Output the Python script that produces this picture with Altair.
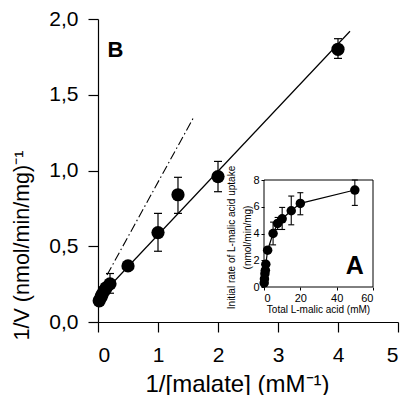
import altair as alt
import pandas as pd

FONT = "Liberation Sans"

# ---------------- main (double reciprocal) data ----------------
main_x = [4.0, 2.0, 1.333, 1.0, 0.5, 0.2, 0.133, 0.1, 0.067, 0.05, 0.02]
main_y = [1.80, 0.96, 0.84, 0.59, 0.37, 0.252, 0.225, 0.205, 0.18, 0.165, 0.14]

err_x = [4.0, 2.0, 1.333, 1.0, 0.2]
err_lo = [1.74, 0.86, 0.717, 0.467, 0.19]
err_hi = [1.87, 1.06, 0.955, 0.717, 0.32]

fit_x = [0.0, 4.2]
fit_y = [0.155, 1.919]

dd_x = [0.15, 1.6]
dd_y = [0.31, 1.355]

# ---------------- inset data ----------------
ins_x = [0.1, 0.25, 0.5, 0.75, 1.0, 2.0, 5.0, 7.5, 10.0, 15.0, 20.0, 50.0]
ins_y = [0.3, 0.6, 1.0, 1.25, 1.7, 2.75, 4.0, 4.75, 5.1, 5.7, 6.25, 7.25]

ierr_x = [5.0, 7.5, 10.0, 15.0, 20.0, 50.0]
ierr_lo = [3.15, 4.3, 4.3, 4.65, 5.4, 6.1]
ierr_hi = [4.85, 5.2, 5.95, 6.8, 7.05, 8.0]

frame_x = [0.0]
frame_x2 = [60.0]
frame_y = [0.0]
frame_y2 = [8.0]

panel_b = ["B"]
panel_b_x = [0.29]
panel_b_y = [1.794]
panel_a = ["A"]
panel_a_x = [50.0]
panel_a_y = [1.55]

# ---------------- tables ----------------
main_df = pd.DataFrame({"x": main_x, "y": main_y})
err_df = pd.DataFrame({"x": err_x, "lo": err_lo, "hi": err_hi})
fit_df = pd.DataFrame({"x": fit_x, "y": fit_y})
dd_df = pd.DataFrame({"x": dd_x, "y": dd_y})
ins_df = pd.DataFrame({"x": ins_x, "y": ins_y})
ierr_df = pd.DataFrame({"x": ierr_x, "lo": ierr_lo, "hi": ierr_hi})
frame_df = pd.DataFrame({"x": frame_x, "x2": frame_x2, "y": frame_y, "y2": frame_y2})
b_df = pd.DataFrame({"t": panel_b, "x": panel_b_x, "y": panel_b_y})
a_df = pd.DataFrame({"t": panel_a, "x": panel_a_x, "y": panel_a_y})

W, H = 300, 303

# main scales / axes
mxs = alt.Scale(domain=[0, 5], nice=False, zero=False)
mys = alt.Scale(domain=[0, 2], nice=False, zero=False)

mx_axis = alt.Axis(
    values=[0, 1, 2, 3, 4, 5], format="d", grid=False,
    domainColor="black", tickColor="black", tickSize=10, domainWidth=1.2, tickWidth=1.2,
    labelFont=FONT, labelFontSize=21, labelColor="black", labelPadding=12,
    title="1/[malate] (mM\u207b\u00b9)", titleFont=FONT, titleFontSize=24,
    titleFontWeight="normal", titleColor="black",
    titleX=139, titleY=62, titleBaseline="middle", titleAnchor="middle",
)
my_axis = alt.Axis(
    values=[0, 0.5, 1.0, 1.5, 2.0], grid=False,
    labelExpr="replace(format(datum.value, '.1f'), '.', ',')",
    domainColor="black", tickColor="black", tickSize=10, domainWidth=1.2, tickWidth=1.2,
    labelFont=FONT, labelFontSize=21, labelColor="black", labelPadding=10,
    title="1/V (nmol/min/mg)\u207b\u00b9", titleFont=FONT, titleFontSize=21.5,
    titleFontWeight="normal", titleColor="black",
    titleX=-76, titleY=226, titleBaseline="middle", titleAnchor="middle", titleAngle=-90,
)

fit = alt.Chart(fit_df).mark_line(color="black", strokeWidth=1.2, opacity=1).encode(
    x=alt.X("x:Q", scale=mxs, axis=mx_axis),
    y=alt.Y("y:Q", scale=mys, axis=my_axis),
)
dd = alt.Chart(dd_df).mark_line(color="black", strokeWidth=1.1, opacity=1, strokeDash=[9, 3, 1.5, 3]).encode(
    x="x:Q", y="y:Q"
)
err_rule = alt.Chart(err_df).mark_rule(color="black", strokeWidth=1.2, opacity=1).encode(
    x="x:Q", y="lo:Q", y2="hi:Q"
)
err_cap_lo = alt.Chart(err_df).mark_tick(color="black", opacity=1, orient="horizontal", size=8, thickness=1.2).encode(
    x="x:Q", y="lo:Q"
)
err_cap_hi = alt.Chart(err_df).mark_tick(color="black", opacity=1, orient="horizontal", size=8, thickness=1.2).encode(
    x="x:Q", y="hi:Q"
)
pts = alt.Chart(main_df).mark_circle(color="black", opacity=1, size=175).encode(
    x="x:Q", y="y:Q"
)
b_txt = alt.Chart(b_df).mark_text(
    font=FONT, fontSize=22, fontWeight="bold", color="black", align="center", baseline="middle"
).encode(x="x:Q", y="y:Q", text="t:N")

main = alt.layer(fit, dd, err_rule, err_cap_lo, err_cap_hi, pts, b_txt)

# inset scales (placed inside the main plot area through explicit ranges)
ixs = alt.Scale(domain=[0, 60], range=[166, 275], nice=False, zero=False)
iys = alt.Scale(domain=[0, 8], range=[268, 161], nice=False, zero=False)

ix_axis = alt.Axis(
    orient="bottom", offset=-35, values=[0, 20, 40, 60], format="d", grid=False,
    domain=False, tickColor="black", tickSize=3,
    labelFont=FONT, labelFontSize=11, labelColor="black", labelPadding=2,
    title="Total L-malic acid (mM)", titleFont=FONT, titleFontSize=10,
    titleFontWeight="normal", titleColor="black",
    titleX=220, titleY=22, titleBaseline="middle", titleAnchor="middle",
)
iy_axis = alt.Axis(
    orient="left", offset=-166, values=[0, 2, 4, 6, 8], format="d", grid=False,
    domain=False, tickColor="black", tickSize=3,
    labelFont=FONT, labelFontSize=11, labelColor="black", labelPadding=2,
    title=["Initial rate of L-malic acid uptake", "(nmol/min/mg)"],
    titleFont=FONT, titleFontSize=10, titleFontWeight="normal", titleColor="black",
    titleLineHeight=16,
    titleX=-28, titleY=218, titleBaseline="bottom", titleAnchor="middle", titleAngle=-90,
)

frame = alt.Chart(frame_df).mark_rect(fill=None, fillOpacity=0, stroke="black", strokeWidth=1).encode(
    x=alt.X("x:Q", scale=ixs, axis=ix_axis),
    x2="x2:Q",
    y=alt.Y("y:Q", scale=iys, axis=iy_axis),
    y2="y2:Q",
)
ins_line = alt.Chart(ins_df).mark_line(color="black", strokeWidth=1.2, opacity=1).encode(x="x:Q", y="y:Q")
ins_err = alt.Chart(ierr_df).mark_rule(color="black", strokeWidth=1.1, opacity=1).encode(x="x:Q", y="lo:Q", y2="hi:Q")
ins_cap_lo = alt.Chart(ierr_df).mark_tick(color="black", opacity=1, orient="horizontal", size=6, thickness=1.1).encode(
    x="x:Q", y="lo:Q"
)
ins_cap_hi = alt.Chart(ierr_df).mark_tick(color="black", opacity=1, orient="horizontal", size=6, thickness=1.1).encode(
    x="x:Q", y="hi:Q"
)
ins_pts = alt.Chart(ins_df).mark_circle(color="black", opacity=1, size=90).encode(x="x:Q", y="y:Q")
a_txt = alt.Chart(a_df).mark_text(
    font=FONT, fontSize=25, fontWeight="bold", color="black", align="center", baseline="middle"
).encode(x="x:Q", y="y:Q", text="t:N")

inset = alt.layer(frame, ins_line, ins_err, ins_cap_lo, ins_cap_hi, ins_pts, a_txt)

chart = (
    alt.layer(main, inset)
    .resolve_scale(x="independent", y="independent")
    .resolve_axis(x="independent", y="independent")
    .properties(
        width=W, height=H,
        autosize=alt.AutoSizeParams(type="none"),
        padding={"left": 90, "top": 11, "right": 5, "bottom": 73},
        background="white",
    )
    .configure_view(stroke=None)
)

chart.save("out.html", embed_options={"renderer": "svg", "actions": False})
